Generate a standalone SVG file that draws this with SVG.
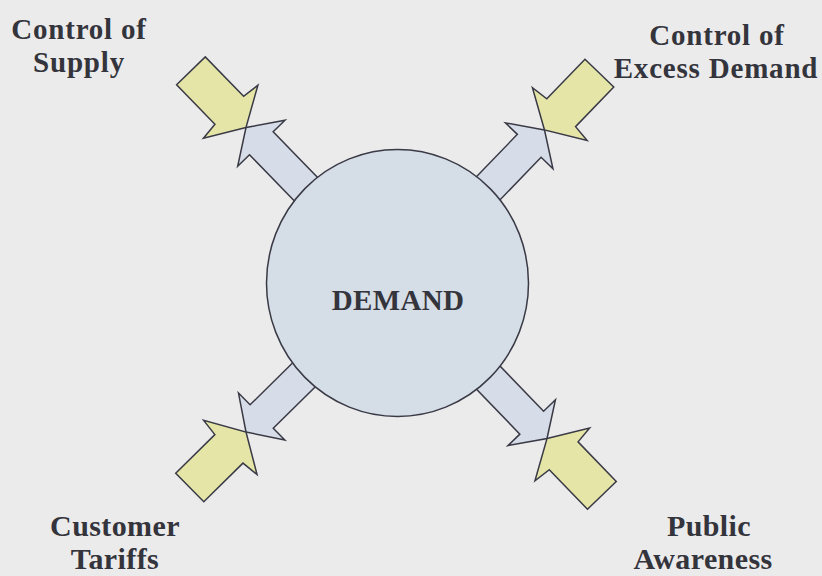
<svg xmlns="http://www.w3.org/2000/svg" xmlns:xlink="http://www.w3.org/1999/xlink" width="822" height="576" viewBox="0 0 822 576">
  <defs>
    <style>
      .label { font-family: "Liberation Serif", "Times New Roman", serif; font-weight: bold; font-size: 30px; fill: #34343c; text-anchor: middle; letter-spacing: 0.4px; }
      .top { font-size: 29px; letter-spacing: 0.8px; }
      .core { font-size: 29px; letter-spacing: 0.3px; }
      .out { fill: #d6dce8; stroke: #3a3a46; stroke-width: 1.5; stroke-linejoin: miter; }
      .in { fill: #e4e5a6; stroke: #3a3a46; stroke-width: 1.5; stroke-linejoin: miter; }
      .hub { fill: #d5dde6; stroke: #3a3a46; stroke-width: 1.5; }
    </style>
    <!-- outward arrow: tip at origin, pointing +x, shaft runs back under the hub -->
    <path id="outArrow" d="M0,0 L-22,-33 L-22,-16.5 L-115,-16.5 L-115,16.5 L-22,16.5 L-22,33 Z"/>
    <!-- inward arrow: tip at origin, pointing -x, tail out at +x -->
    <path id="inArrow" d="M0,0 L22,-38 L24,-20 L79,-20 L79,20 L24,20 L22,38 Z"/>
  </defs>

  <rect width="822" height="576" fill="#ebebeb"/>

  <!-- outward arrows from the hub -->
  <g id="connectors">
    <use xlink:href="#outArrow" class="out" transform="translate(246,127.5) rotate(-134.2)"/>
    <use xlink:href="#outArrow" class="out" transform="translate(544.5,130) rotate(-46)"/>
    <use xlink:href="#outArrow" class="out" transform="translate(246,432) rotate(135.4)"/>
    <use xlink:href="#outArrow" class="out" transform="translate(547,438.5) rotate(46)"/>
  </g>

  <g id="demand">
    <ellipse class="hub" cx="397.5" cy="283" rx="131" ry="133.5"/>
    <text class="label core" x="398" y="310">DEMAND</text>
  </g>

  <g id="control-of-supply">
    <use xlink:href="#inArrow" class="in" transform="translate(246,127.5) rotate(-134.2)"/>
    <text class="label top" x="79" y="39">Control of</text>
    <text class="label top" x="79" y="72">Supply</text>
  </g>

  <g id="control-of-excess-demand">
    <use xlink:href="#inArrow" class="in" transform="translate(544.5,130) rotate(-46)"/>
    <text class="label top" x="717" y="45">Control of</text>
    <text class="label top" x="716" y="78">Excess Demand</text>
  </g>

  <g id="customer-tariffs">
    <use xlink:href="#inArrow" class="in" transform="translate(246,432) rotate(135.4)"/>
    <text class="label" x="115" y="536">Customer</text>
    <text class="label" x="115" y="569">Tariffs</text>
  </g>

  <g id="public-awareness">
    <use xlink:href="#inArrow" class="in" transform="translate(547,438.5) rotate(46)"/>
    <text class="label" x="709" y="536">Public</text>
    <text class="label" x="703" y="569" letter-spacing="1.6">Awareness</text>
  </g>
</svg>
